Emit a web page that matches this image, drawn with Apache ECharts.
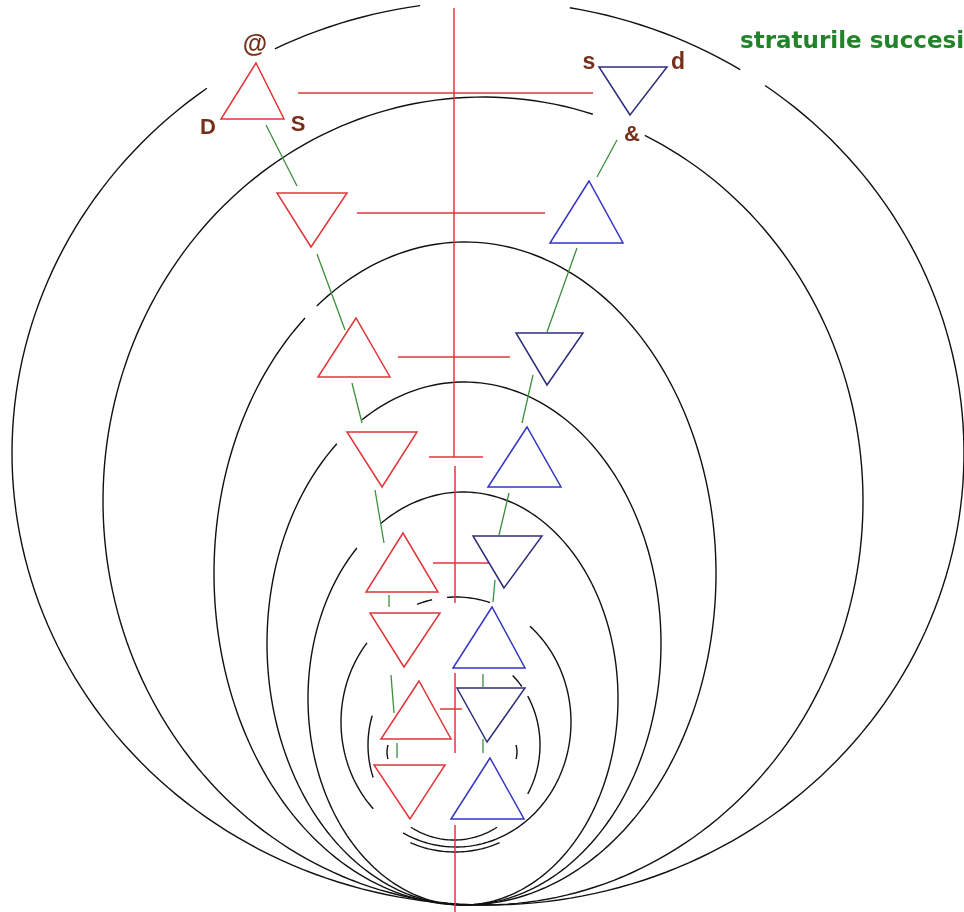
<!DOCTYPE html>
<html>
<head>
<meta charset="UTF-8">
<title>straturile succesi</title>
<script src="https://cdn.jsdelivr.net/npm/echarts@6/dist/echarts.min.js"></script>
<style>
  html, body { margin: 0; padding: 0; background: #fff; }
  #chart { width: 964px; height: 912px; }
</style>
</head>
<body>
<div id="chart"></div>
<script>
// ellipses: cx, cy, rx, ry (picture coordinates, y down)
var ellipses = [
    [488, 453, 476, 452],
    [483, 501, 380, 404],
    [465, 573.5, 251, 331.5],
    [464, 643.5, 197, 261.5],
    [463, 698.5, 155, 206.5],
    [456, 722, 115, 125],
    [454, 745, 86, 95],
    [452, 752, 65, 40],
    [455, 772, 95, 80]
];
// visible pieces: ellipse index, from angle, to angle (degrees, 90 = bottom)
var ellipseArcs = [
    [0, -54.4, 233.8], [0, 243.4, 261.8], [0, 279.9, 302],
    [1, -64.8, 286.8],
    [2, -126.2, 230.4],
    [3, -121.2, 229.8],
    [4, -122.2, 226.8],
    [5, -109.8, -102], [5, -94.5, -72.8], [5, -50, 117.4], [5, 136, 219.3],
    [6, -47, -38], [6, -31, 31], [6, 60, 120], [6, 160, 198],
    [7, 170, 190], [7, -10, 10],
    [8, 62, 118]
];
// triangles: tipX, tipY, baseY, baseLeftX, baseRightX
var redTriangles = [
    [256, 63, 119, 221, 284],
    [311, 247, 193, 277, 347],
    [356, 318, 377, 318, 390],
    [382, 487, 432, 347, 417],
    [403, 533, 592, 366, 438],
    [404, 667, 613, 370, 440],
    [419, 681, 739, 381, 451],
    [410, 819, 765, 374, 445]
];
var blueUpTriangles = [
    [589, 181, 243, 550, 623],
    [527, 427, 487, 488, 561],
    [492, 607, 668, 453, 525],
    [490, 758, 819, 451, 524]
];
var blueDownTriangles = [
    [630, 115, 67, 599, 667],
    [547, 385, 333, 516, 583],
    [504, 588, 536, 473, 542],
    [487, 742, 688, 457, 525]
];
// segments: x1, y1, x2, y2
var redSegments = [
    [298, 93, 593, 93], [357, 213, 545, 213], [398, 357, 510, 357],
    [429, 457, 483, 457], [433, 563, 489, 563], [440, 709, 462, 709],
    [454, 8, 454, 457], [455, 466, 455, 603], [455, 673, 455, 753], [455, 825, 455, 912]
];
var greenSegments = [
    [266, 125, 297, 186], [317, 254, 345, 330], [352, 383, 362, 423], [375, 490, 384, 543],
    [389, 595, 389, 607], [391, 675, 394, 713], [397, 743, 397, 758],
    [617, 140, 597, 177], [577, 248, 547, 332], [533, 375, 522, 423], [509, 493, 499, 535],
    [495, 580, 493, 602], [483, 674, 483, 687], [483, 739, 483, 753]
];
var labelTexts = ['@', 'D', 'S', 's', 'd', '&'];
var labelX = [255, 208, 298, 589, 678, 632];
var labelY = [45, 128, 125, 63, 63, 135];
var labelSize = [25, 22, 22, 23, 23, 22];

var arcData = ellipseArcs.map(function (a) {
    var e = ellipses[a[0]];
    return [e[0], e[1], e[2], e[3], a[1], a[2]];
});

function renderArc(params, api) {
    var cx = api.value(0), cy = api.value(1), rx = api.value(2), ry = api.value(3);
    var t0 = api.value(4), t1 = api.value(5);
    var n = Math.max(2, Math.ceil((t1 - t0) / 1.5));
    var pts = [];
    for (var i = 0; i <= n; i++) {
        var t = (t0 + (t1 - t0) * i / n) * Math.PI / 180;
        pts.push(api.coord([cx + rx * Math.cos(t), cy + ry * Math.sin(t)]));
    }
    return { type: 'polyline', shape: { points: pts }, style: { stroke: '#111111', lineWidth: 1.4, fill: null } };
}

function triangleRenderer(color) {
    return function (params, api) {
        var tip = api.coord([api.value(0), api.value(1)]);
        var l = api.coord([api.value(3), api.value(2)]);
        var r = api.coord([api.value(4), api.value(2)]);
        return { type: 'polygon', shape: { points: [tip, l, r] }, style: { stroke: color, lineWidth: 1.5, fill: null } };
    };
}

function segmentRenderer(color, width) {
    return function (params, api) {
        var p1 = api.coord([api.value(0), api.value(1)]);
        var p2 = api.coord([api.value(2), api.value(3)]);
        return { type: 'line', shape: { x1: p1[0], y1: p1[1], x2: p2[0], y2: p2[1] }, style: { stroke: color, lineWidth: width } };
    };
}

var myChart = echarts.init(document.getElementById('chart'));
var option = {
    animation: false,
    backgroundColor: '#ffffff',
    title: {
        text: 'straturile succesi',
        left: 735,
        top: 26,
        textStyle: { color: '#23832a', fontSize: 23, fontWeight: 'bold', fontFamily: 'DejaVu Sans' }
    },
    grid: { left: 0, right: 0, top: 0, bottom: 0 },
    xAxis: { type: 'value', min: 0, max: 964, show: false },
    yAxis: { type: 'value', min: 0, max: 912, inverse: true, show: false },
    series: [
        { type: 'custom', name: 'ellipses', clip: false, renderItem: renderArc, data: arcData },
        { type: 'custom', name: 'green', clip: false, renderItem: segmentRenderer('#3d8f3d', 1.3), data: greenSegments },
        { type: 'custom', name: 'red lines', clip: false, renderItem: segmentRenderer('#e0363a', 1.5), data: redSegments },
        { type: 'custom', name: 'red triangles', clip: false, renderItem: triangleRenderer('#e0363a'), data: redTriangles },
        { type: 'custom', name: 'blue up', clip: false, renderItem: triangleRenderer('#3535c4'), data: blueUpTriangles },
        { type: 'custom', name: 'blue down', clip: false, renderItem: triangleRenderer('#2e2e7e'), data: blueDownTriangles },
        {
            type: 'custom', name: 'labels', clip: false,
            renderItem: function (params, api) {
                var p = api.coord([api.value(0), api.value(1)]);
                return {
                    type: 'text', x: p[0], y: p[1],
                    style: {
                        text: labelTexts[params.dataIndex], fill: '#76301a',
                        font: 'bold ' + labelSize[params.dataIndex] + 'px "Liberation Sans", Arial, sans-serif',
                        align: 'center', verticalAlign: 'middle'
                    }
                };
            },
            data: labelX.map(function (x, i) { return [x, labelY[i]]; })
        }
    ]
};
myChart.setOption(option);
</script>
</body>
</html>
